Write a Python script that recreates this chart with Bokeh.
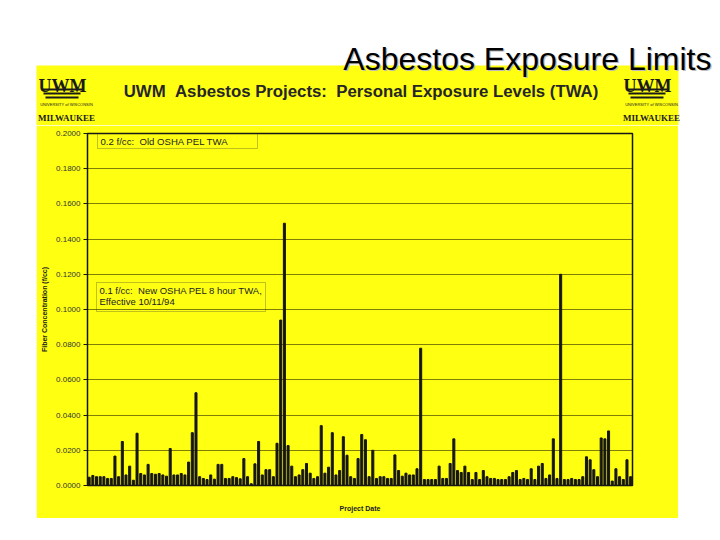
from bokeh.plotting import figure
from bokeh.layouts import column, row
from bokeh.models import (ColumnDataSource, Range1d, FixedTicker, PrintfTickFormatter,
                          Label, BoxAnnotation, Spacer)
from bokeh.embed import file_html
from bokeh.resources import INLINE

# ---- data (fiber concentration, f/cc, one bar per project) ----
values = [
    0.0047, 0.0057, 0.0050, 0.0050, 0.0050, 0.0040, 0.0040, 0.0167, 0.0050, 0.0250,
    0.0060, 0.0110, 0.0030, 0.0297, 0.0068, 0.0060, 0.0120, 0.0068, 0.0064, 0.0068,
    0.0060, 0.0053, 0.0210, 0.0060, 0.0060, 0.0068, 0.0060, 0.0133, 0.0300, 0.0527,
    0.0050, 0.0040, 0.0034, 0.0060, 0.0036, 0.0120, 0.0120, 0.0040, 0.0040, 0.0050,
    0.0045, 0.0038, 0.0153, 0.0050, 0.0010, 0.0123, 0.0250, 0.0060, 0.0090, 0.0090,
    0.0050, 0.0240, 0.0940, 0.1490, 0.0227, 0.0110, 0.0050, 0.0060, 0.0090, 0.0125,
    0.0070, 0.0040, 0.0050, 0.0340, 0.0070, 0.0104, 0.0300, 0.0060, 0.0085, 0.0277,
    0.0172, 0.0050, 0.0040, 0.0153, 0.0290, 0.0260, 0.0050, 0.0200, 0.0040, 0.0050,
    0.0050, 0.0040, 0.0040, 0.0174, 0.0085, 0.0053, 0.0070, 0.0060, 0.0060, 0.0095,
    0.0780, 0.0034, 0.0034, 0.0034, 0.0034, 0.0110, 0.0040, 0.0040, 0.0125, 0.0265,
    0.0085, 0.0074, 0.0110, 0.0074, 0.0034, 0.0074, 0.0034, 0.0085, 0.0050, 0.0040,
    0.0040, 0.0034, 0.0034, 0.0034, 0.0050, 0.0074, 0.0085, 0.0034, 0.0040, 0.0034,
    0.0095, 0.0034, 0.0110, 0.0125, 0.0040, 0.0060, 0.0265, 0.0040, 0.1200, 0.0034,
    0.0034, 0.0040, 0.0034, 0.0034, 0.0050, 0.0163, 0.0146, 0.0090, 0.0050, 0.0270,
    0.0265, 0.0310, 0.0025, 0.0095, 0.0050, 0.0034, 0.0146, 0.0050,
]
y_ticks = [0.0, 0.02, 0.04, 0.06, 0.08, 0.10, 0.12, 0.14, 0.16, 0.18, 0.20]

NB = "\u00a0"
slide_title = "Asbestos Exposure Limits"
chart_title = f"UWM {NB}Asbestos Projects: {NB}Personal Exposure Levels (TWA)"
y_label = "Fiber Concentration (f/cc)"
x_label = "Project Date"
note_old = f"0.2 f/cc: {NB}Old OSHA PEL TWA"
note_new = [f"0.1 f/cc: {NB}New OSHA PEL 8 hour TWA,", "Effective 10/11/94"]
logo_big = "UWM"
logo_small = "UNIVERSITY of WISCONSIN"
logo_city = "MILWAUKEE"

# ---- layout constants (page pixels) ----
YL, YR, YT, YB = 36, 678, 65, 518          # yellow scanned sheet
FL, FR, FT, FB = 87, 632, 133, 485         # plot frame
HEAD_H = 125                               # height of the header strip
X0, X1 = -0.45, len(values) - 0.5
Y0, Y1 = 0.0, 0.2
YEL = "#FFFF12"
INK = "#161616"
SANS = "Liberation Sans"
SERIF = "Liberation Serif"

def fx(px):
    return X0 + (px - FL) / (FR - FL) * (X1 - X0)

def fy(py):
    return Y0 + (FB - py) / (FB - FT) * (Y1 - Y0)

# ================= header: slide title + top of the scanned sheet =================
head = figure(width=712, height=HEAD_H, x_range=Range1d(0, 712), y_range=Range1d(HEAD_H, 0),
              min_border=0, x_axis_type=None, y_axis_type=None,
              output_backend="svg", toolbar_location=None)
head.outline_line_color = None
head.background_fill_color = "white"
head.border_fill_color = "white"
head.grid.visible = False

head.add_layout(BoxAnnotation(left=YL, right=YR, top=YT, bottom=HEAD_H + 2,
                              fill_color=YEL, fill_alpha=1, line_alpha=0, level="image"))

for dx, col in ((1.2, "#bdbdbd"), (0, "black")):
    head.add_layout(Label(x=711 + dx, y=58 + dx, text=slide_title,
                          text_font=SANS, text_font_size="32px", text_color=col,
                          text_align="right", text_baseline="alphabetic"))

head.add_layout(Label(x=360.5, y=91, text=chart_title, text_font=SANS,
                      text_font_size="16.8px", text_font_style="bold", text_color="#262626",
                      text_align="center", text_baseline="alphabetic"))

for cx in (62, 647):
    head.add_layout(Label(x=cx, y=85, text=logo_big, text_font=SERIF,
                          text_font_size="18px", text_font_style="bold", text_color="#1a1a1a",
                          text_align="center", text_baseline="alphabetic"))
    for k in range(3):
        top = 88 + 4 * k
        head.add_layout(BoxAnnotation(left=cx - 21 + 2 * k, right=cx + 20 - 2 * k,
                                      top=top, bottom=top + 2,
                                      fill_color="#1a1a1a", fill_alpha=1, line_alpha=0))
    head.add_layout(Label(x=cx + 4, y=104, text=logo_small, text_font=SANS,
                          text_font_size="4px", text_color="#1a1a1a",
                          text_align="center", text_baseline="middle"))
    head.add_layout(Label(x=cx + 4, y=117, text=logo_city, text_font=SERIF,
                          text_font_size="9px", text_font_style="bold", text_color="#1a1a1a",
                          text_align="center", text_baseline="alphabetic"))

# ================= the bar chart =================
src = ColumnDataSource(dict(x=list(range(len(values))), top=values))

p = figure(frame_width=FR - FL, frame_height=FB - FT,
           min_border_left=FL - YL, min_border_right=YR - FR,
           min_border_top=FT - HEAD_H, min_border_bottom=YB - FB,
           x_range=Range1d(X0, X1), y_range=Range1d(Y0, Y1),
           output_backend="svg", toolbar_location=None)

p.background_fill_color = YEL
p.border_fill_color = YEL
p.outline_line_color = INK
p.outline_line_width = 1.5

p.vbar(x="x", top="top", width=0.55, source=src, color=INK)

p.yaxis.ticker = FixedTicker(ticks=y_ticks)
p.yaxis.formatter = PrintfTickFormatter(format="%.4f")
p.yaxis.major_label_text_font = SANS
p.yaxis.major_label_text_font_size = "8px"
p.yaxis.major_label_text_color = "#333333"
p.yaxis.major_tick_out = 4
p.yaxis.major_tick_in = 0
p.yaxis.minor_tick_line_color = None
p.yaxis.axis_line_color = INK
p.yaxis.major_tick_line_color = INK
p.yaxis.major_label_standoff = 3
p.yaxis.axis_label = y_label
p.yaxis.axis_label_text_font = SANS
p.yaxis.axis_label_text_font_size = "7px"
p.yaxis.axis_label_text_font_style = "bold"
p.yaxis.axis_label_text_color = "#222222"
p.yaxis.axis_label_standoff = 5

p.xaxis.ticker = FixedTicker(ticks=[])
p.xaxis.axis_line_color = INK
p.xaxis.major_tick_out = 0
p.xaxis.minor_tick_line_color = None
p.xaxis.axis_label = x_label
p.xaxis.axis_label_text_font = SANS
p.xaxis.axis_label_text_font_size = "7px"
p.xaxis.axis_label_text_font_style = "bold"
p.xaxis.axis_label_text_color = "#222222"
p.xaxis.axis_label_standoff = 19

p.ygrid.ticker = FixedTicker(ticks=y_ticks)
p.ygrid.grid_line_color = "#2a2a00"
p.ygrid.grid_line_alpha = 0.6
p.xgrid.grid_line_color = None

# regulatory-limit note boxes
for (l, t, r, b) in ((97, 133, 257, 148), (96, 282, 265, 311)):
    p.add_layout(BoxAnnotation(left=fx(l), right=fx(r), top=fy(t), bottom=fy(b),
                               fill_alpha=0, line_color="#333333", line_width=1))
p.add_layout(Label(x=fx(100), y=fy(141), text=note_old, text_font=SANS,
                   text_font_size="9.6px", text_color="#222222", text_baseline="middle"))
for i, line in enumerate(note_new):
    p.add_layout(Label(x=fx(99), y=fy(290 + 11 * i), text=line, text_font=SANS,
                       text_font_size="9.5px", text_color="#222222", text_baseline="middle"))

layout = column(head, row(Spacer(width=YL, height=YB - HEAD_H), p, spacing=0), spacing=0)
open("out.html", "w").write(file_html(layout, INLINE))
